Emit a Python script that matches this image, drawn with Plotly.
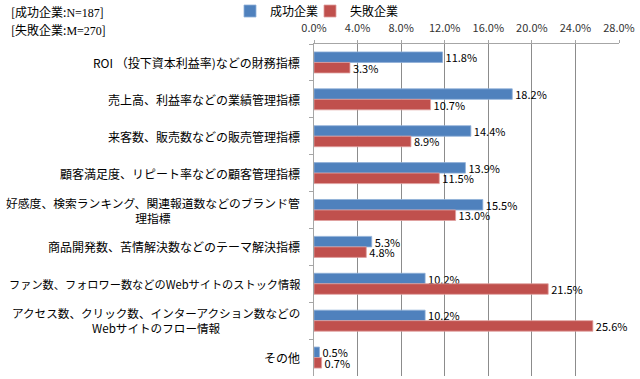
import plotly.graph_objects as go

categories = [
    "ROI （投下資本利益率)などの財務指標",
    "売上高、利益率などの業績管理指標",
    "来客数、販売数などの販売管理指標",
    "顧客満足度、リピート率などの顧客管理指標",
    "好感度、検索ランキング、関連報道数などのブランド管<br>理指標",
    "商品開発数、苦情解決数などのテーマ解決指標",
    "ファン数、フォロワー数などのWebサイトのストック情報",
    "アクセス数、クリック数、インターアクション数などの<br>Webサイトのフロー情報",
    "その他",
]
label_sizes = [12, 12, 12, 12, 11.8, 12, 11.2, 11.6, 12]
cat_ids = [f"c{i}" for i in range(len(categories))]
success = [11.8, 18.2, 14.4, 13.9, 15.5, 5.3, 10.2, 10.2, 0.5]
failure = [3.3, 10.7, 8.9, 11.5, 13.0, 4.8, 21.5, 25.6, 0.7]
series_names = ["成功企業", "失敗企業"]
tick_vals = [0, 4, 8, 12, 16, 20, 24, 28]
tick_text = [f"{v:.1f}%" for v in tick_vals]

FONT = "Noto Sans CJK JP"
BLUE = "#4F81BD"
RED = "#C0504D"

W, H = 640, 379
L, T = 314, 44
PW, PH = 305, 332
R, B = W - L - PW, H - T - PH


def px_x(px):
    return (px - L) / PW


def px_y(py):
    return 1 + (T - py) / PH


fig = go.Figure()
for i, (name, vals, col, edge) in enumerate([(series_names[0], success, BLUE, "#8FB0D8"),
                                             (series_names[1], failure, RED, "#E0A09E")]):
    fig.add_trace(go.Bar(
        y=cat_ids, x=vals, name=name, orientation="h",
        marker=dict(color=col, line=dict(color=edge, width=0.8)),
        text=[f"{v:.1f}%" for v in vals], textposition="outside",
        textfont=dict(family=FONT, size=11, color="#000000"),
        constraintext="none", cliponaxis=False,
        legend="legend" if i == 0 else "legend2",
    ))

annotations = []
for cid, lab, fs in zip(cat_ids, categories, label_sizes):
    annotations.append(dict(
        x=0, xref="paper", y=cid, yref="y", text=lab, showarrow=False,
        xanchor="right", xshift=-12, align="center",
        font=dict(family=FONT, size=fs, color="#000000"),
    ))
notes = ["[成功企業:<span style='font-family:Liberation Serif'>N=187</span>]",
         "[失敗企業:<span style='font-family:Liberation Serif'>M=270</span>]"]
for i, t in enumerate(notes):
    annotations.append(dict(
        x=px_x(9), y=px_y(12 + 18 * i),
        xref="paper", yref="paper", text=t, showarrow=False,
        xanchor="left", yanchor="middle",
        font=dict(family=FONT, size=12, color="#000000"),
    ))

leg_common = dict(orientation="h", xanchor="left", yanchor="middle",
                  font=dict(family=FONT, size=12, color="#000000"),
                  bgcolor="rgba(0,0,0,0)", itemwidth=30)

fig.update_layout(
    width=W, height=H,
    margin=dict(l=L, r=R, t=T, b=B, autoexpand=False),
    paper_bgcolor="white", plot_bgcolor="white",
    barmode="group", bargap=0.43, bargroupgap=0,
    showlegend=True,
    legend=dict(x=px_x(230), y=px_y(11), **leg_common),
    legend2=dict(x=px_x(310), y=px_y(11), **leg_common),
    xaxis=dict(side="top", range=[0, 28], tickvals=tick_vals, ticktext=tick_text,
               showgrid=True, gridcolor="#8C8C8C", gridwidth=1,
               showline=True, linecolor="#A6A6A6", linewidth=1,
               ticks="outside", ticklen=3, tickcolor="#A6A6A6",
               tickfont=dict(family=FONT, size=11, color="#333333"),
               ticklabelstandoff=4, zeroline=False, fixedrange=True,
               automargin=False),
    yaxis=dict(autorange="reversed", type="category", showticklabels=False,
               showline=True, linecolor="#A6A6A6", linewidth=1,
               ticks="outside", ticklen=4, tickcolor="#A6A6A6",
               tickson="boundaries", showgrid=False, fixedrange=True,
               automargin=False),
    annotations=annotations,
    font=dict(family=FONT),
)

fig.write_html(
    "out.html",
    config={"displayModeBar": False},
    post_script="document.body.style.margin='0';document.body.style.overflow='hidden';",
)
